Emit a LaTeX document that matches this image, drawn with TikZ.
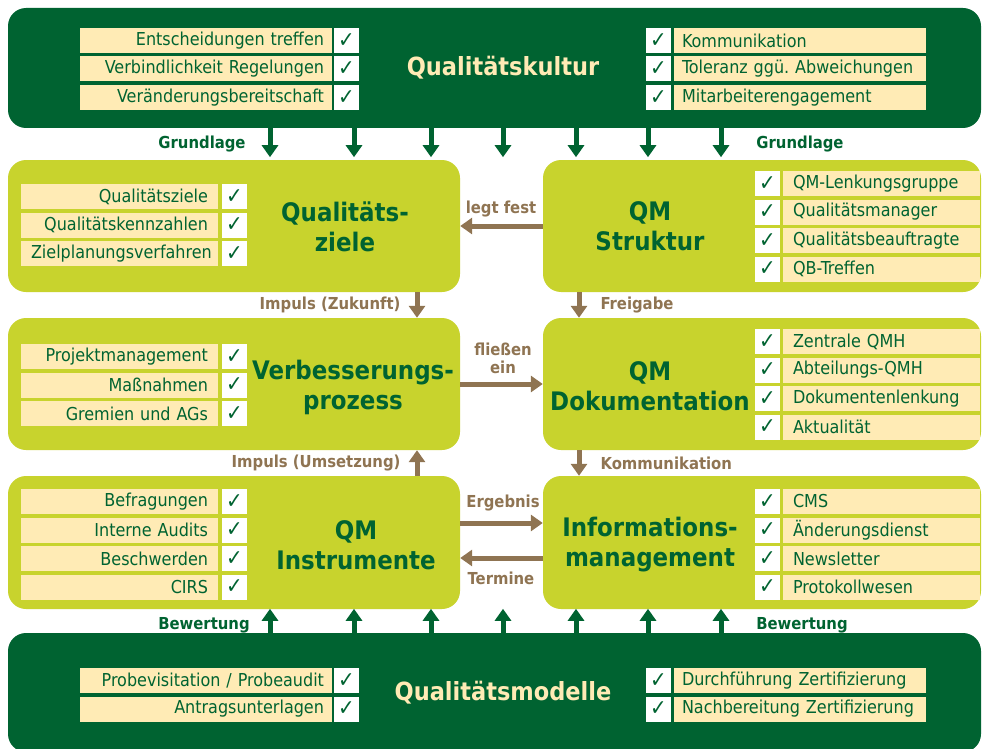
\documentclass[tikz,border=0pt]{standalone}
\usepackage{fontspec}
\setmainfont{DejaVu Sans Condensed}
\usetikzlibrary{positioning,arrows.meta}
\definecolor{dgreen}{RGB}{0,99,49}
\definecolor{lgreen}{RGB}{200,211,45}
\definecolor{cream}{RGB}{255,235,181}
\definecolor{brn}{RGB}{143,116,82}
\newcommand{\hk}{\char"2713}
\tikzset{
  band/.style={fill=dgreen, rounded corners=18pt, inner sep=0, minimum width=973},
  qmbox/.style={fill=lgreen, rounded corners=18pt, inner sep=0, minimum width=#1, minimum height=132},
  lbl/.style={fill=cream, text=dgreen, minimum height=25, inner sep=0, font=\fontsize{17.8}{17.8}\selectfont},
  lblwide/.style={lbl, minimum width=252, text width=236},
  lblnarrow/.style={lbl, minimum width=197, text width=177},
  chk/.style={fill=white, text=dgreen, minimum width=25, minimum height=25, inner sep=0, font=\fontsize{22}{22}\selectfont\bfseries},
  ttl/.style={text=dgreen, align=center, font=\fontsize{25.5}{30}\selectfont\bfseries},
  bandttl/.style={text=cream, font=\fontsize{25}{25}\selectfont\bfseries},
  glbl/.style={text=dgreen, font=\fontsize{16.5}{16.5}\selectfont\bfseries},
  blbl/.style={text=brn, align=center, font=\fontsize{16.5}{18}\selectfont\bfseries},
  garrow/.style={draw=dgreen, line width=5pt, -{Triangle[width=16pt,length=12pt]}},
  barrow/.style={draw=brn, line width=5pt, -{Triangle[width=16pt,length=12pt]}}
}
\begin{document}
\frenchspacing
\begin{tikzpicture}[x=1pt,y=-1pt]
  \useasboundingbox (0,0) rectangle (982,749);

  \node[band, minimum height=120] (kultur) at (494.5,68) {};
  \node[band, minimum height=119] (modelle) at (494.5,692.5) {};
  \node[qmbox=452] (ziele) at (234,226) {};
  \node[qmbox=438] (struktur) at (762,226) {};
  \node[qmbox=452] (verb) at (234,384) {};
  \node[qmbox=438] (doku) at (762,384) {};
  \node[qmbox=452, minimum height=133] (instr) at (234,542.5) {};
  \node[qmbox=438, minimum height=133] (info) at (762,542.5) {};

  \node[bandttl] (kulturttl) at (503,68) {Qualitätskultur};
  \node[bandttl] (modellettl) at (503,693) {Qualitätsmodelle};
  \node[ttl] (zielettl) at (345,227) {Qualitäts-\\ziele};
  \node[ttl] (strukturttl) at (650,226) {QM\\Struktur};
  \node[ttl] (verbttl) at (353,387) {Verbesserungs-\\prozess};
  \node[ttl] (dokuttl) at (650,386) {QM\\Dokumentation};
  \node[ttl] (instrttl) at (356,545) {QM\\Instrumente};
  \node[ttl] (infottl) at (650,545) {Informations-\\management};

  % Qualitaetskultur
  \foreach \t [count=\i] in {Entscheidungen treffen, Verbindlichkeit Regelungen, Veränderungsbereitschaft} {
    \node[lblwide, align=right] (kl\i) at (206,12+28.5*\i) {\t};
    \node[chk] (klc\i) at (346.5,12+28.5*\i) {\hk};
  }
  \foreach \t [count=\i] in {Kommunikation, Toleranz ggü. Abweichungen, Mitarbeiterengagement} {
    \node[chk] (krc\i) at (658.5,12+28.5*\i) {\hk};
    \node[lblwide, align=left] (kr\i) at (800,12+28.5*\i) {\t};
  }

  % linke Spalte
  \foreach \t [count=\i] in {Qualitätsziele, Qualitätskennzahlen, Zielplanungsverfahren} {
    \node[lblnarrow, align=right] (z\i) at (119.5,168+28.5*\i) {\t};
    \node[chk] (zc\i) at (234.5,168+28.5*\i) {\hk};
  }
  \foreach \t [count=\i] in {Projektmanagement, Maßnahmen, Gremien und AGs} {
    \node[lblnarrow, align=right] (v\i) at (119.5,328+28.5*\i) {\t};
    \node[chk] (vc\i) at (234.5,328+28.5*\i) {\hk};
  }
  \foreach \t [count=\i] in {Befragungen, Interne Audits, Beschwerden, CIRS} {
    \node[lblnarrow, align=right] (in\i) at (119.5,473+28.5*\i) {\t};
    \node[chk] (inc\i) at (234.5,473+28.5*\i) {\hk};
  }

  % rechte Spalte
  \foreach \t [count=\i] in {QM-Lenkungsgruppe, Qualitätsmanager, Qualitätsbeauftragte, QB-Treffen} {
    \node[chk] (sc\i) at (767.5,155+28.5*\i) {\hk};
    \node[lblnarrow, align=left] (s\i) at (881.5,155+28.5*\i) {\t};
  }
  \foreach \t [count=\i] in {Zentrale QMH, Abteilungs-QMH, Dokumentenlenkung, Aktualität} {
    \node[chk] (dc\i) at (767.5,313+28.5*\i) {\hk};
    \node[lblnarrow, align=left] (d\i) at (881.5,313+28.5*\i) {\t};
  }
  \foreach \t [count=\i] in {CMS, Änderungsdienst, Newsletter, Protokollwesen} {
    \node[chk] (ic\i) at (767.5,473+28.5*\i) {\hk};
    \node[lblnarrow, align=left] (i\i) at (881.5,473+28.5*\i) {\t};
  }

  % Qualitaetsmodelle
  \foreach \t [count=\i] in {{Probevisitation / Probeaudit}, Antragsunterlagen} {
    \node[lblwide, align=right] (ml\i) at (206,652+28.5*\i) {\t};
    \node[chk] (mlc\i) at (346.5,652+28.5*\i) {\hk};
  }
  \foreach \t [count=\i] in {Durchführung Zertifizierung, Nachbereitung Zertifizierung} {
    \node[chk] (mrc\i) at (658.5,652+28.5*\i) {\hk};
    \node[lblwide, align=left] (mr\i) at (800,652+28.5*\i) {\t};
  }

  % Grundlage / Bewertung
  \foreach \x in {270,354,431,503,576,648,721} {
    \coordinate (g\x) at (\x,0);
    \draw[garrow] (kultur.south -| g\x) -- ++(0,29);
    \draw[garrow] (modelle.north -| g\x) -- ++(0,-24);
  }
  \node[glbl] (gl1) at (202,144) {Grundlage};
  \node[glbl] (gl2) at (800,144) {Grundlage};
  \node[glbl] (bw1) at (204,625) {Bewertung};
  \node[glbl] (bw2) at (802,625) {Bewertung};

  % Verbindungen
  \draw[barrow] (struktur.west) -- (ziele.east);
  \draw[barrow] (verb.east) -- (doku.west);
  \draw[barrow] ([yshift=19.5pt]instr.east) -- ([yshift=19.5pt]info.west);
  \draw[barrow] ([yshift=-15.5pt]info.west) -- ([yshift=-15.5pt]instr.east);
  \draw[barrow] ([xshift=183pt]ziele.south) -- ([xshift=183pt]verb.north);
  \draw[barrow] ([xshift=183pt]instr.north) -- ([xshift=183pt]verb.south);
  \draw[barrow] ([xshift=-183pt]struktur.south) -- ([xshift=-183pt]doku.north);
  \draw[barrow] ([xshift=-183pt]doku.south) -- ([xshift=-183pt]info.north);

  \node[blbl] (legt) at (501,209) {legt fest};
  \node[blbl] (fliess) at (503,358) {fließen\\ein};
  \node[blbl] (erg) at (503,503) {Ergebnis};
  \node[blbl] (term) at (501,578) {Termine};
  \node[blbl, anchor=east] (impz) at (404,305) {Impuls (Zukunft)};
  \node[blbl, anchor=east] (impu) at (404,463) {Impuls (Umsetzung)};
  \node[blbl, anchor=west] (frei) at (597,305) {Freigabe};
  \node[blbl, anchor=west] (komm) at (597,463) {Kommunikation};
\end{tikzpicture}
\end{document}
